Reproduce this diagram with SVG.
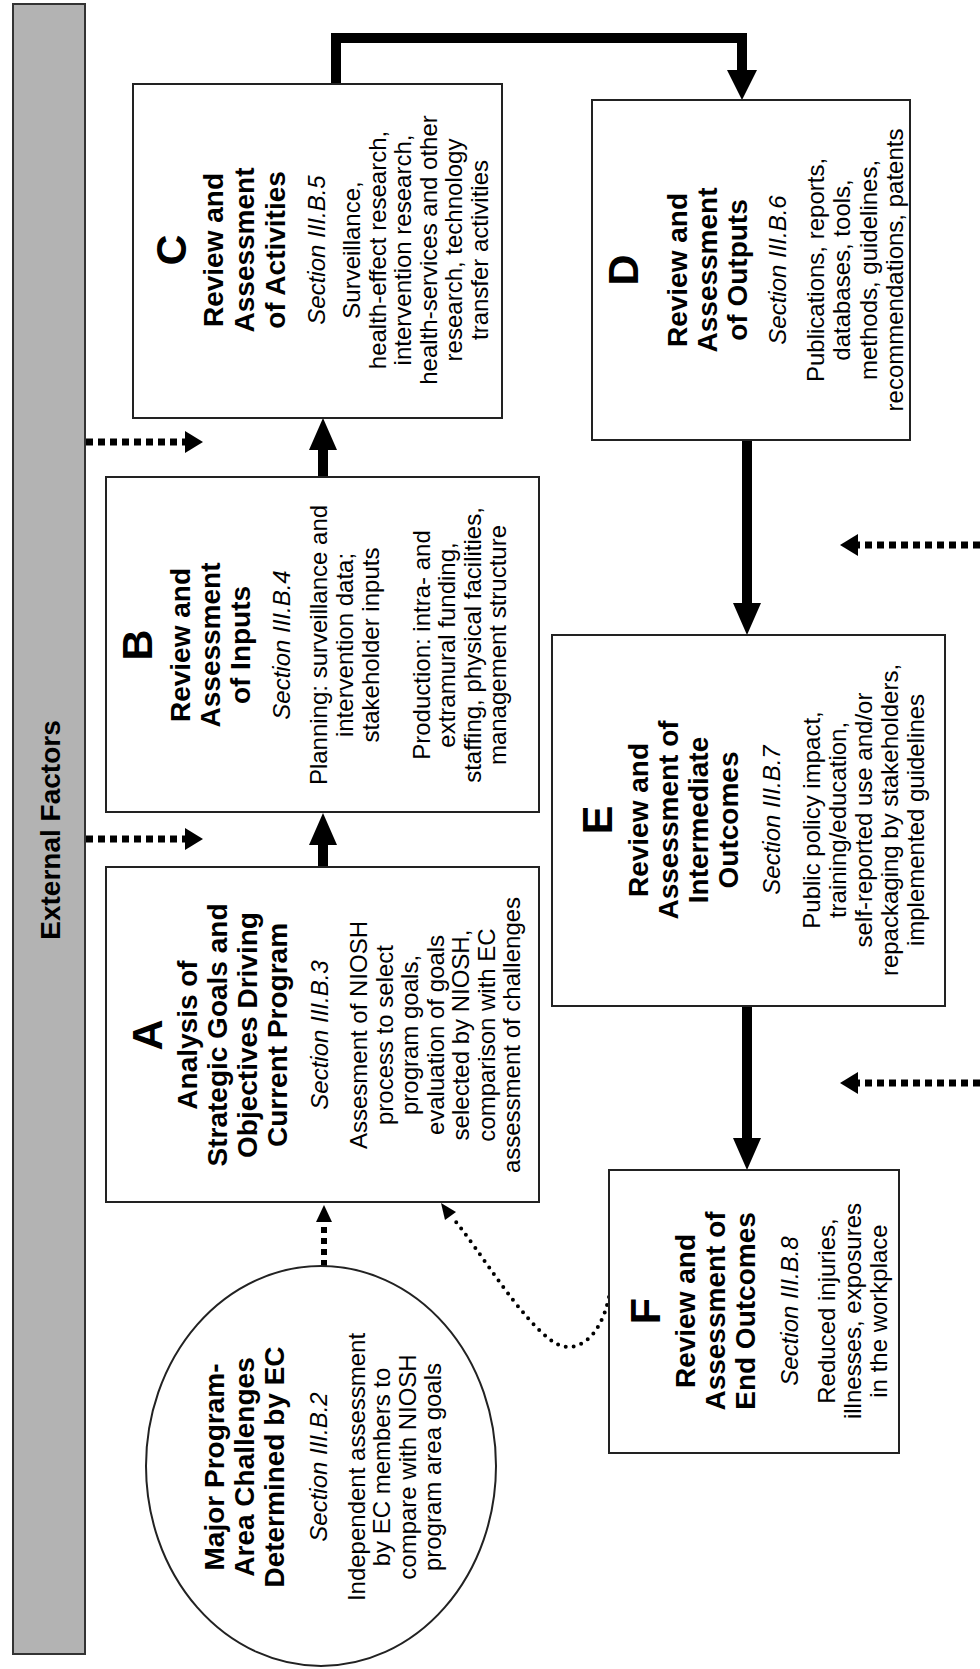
<svg xmlns="http://www.w3.org/2000/svg" width="980" height="1669" viewBox="0 0 980 1669">
<style>
text{font-family:"Liberation Sans",Arial,Helvetica,sans-serif;fill:#000;text-anchor:middle}
.ltr{font-weight:bold;font-size:43px}
.ttl{font-weight:bold;font-size:28px}
.sec{font-style:italic;font-size:24px}
.txt{font-size:24px}
.box{fill:#fff;stroke:#222;stroke-width:2}
.solid{fill:none;stroke:#000;stroke-width:10}
.dash{fill:none;stroke:#000;stroke-width:7;stroke-dasharray:7 5}
.dash2{fill:none;stroke:#000;stroke-width:6;stroke-dasharray:6 5}
.dots{fill:none;stroke:#000;stroke-width:4;stroke-linecap:round;stroke-dasharray:0 8}
.head{fill:#000;stroke:none}
</style>
<rect width="980" height="1669" fill="#fff"/>

<g id="external-factors">
<rect x="13" y="4" width="72" height="1650" fill="#b3b3b3" stroke="#333" stroke-width="2"/>
<g transform="translate(0,830) rotate(-90)"><text class="ttl" x="0" y="60">External Factors</text></g>
</g>

<g id="connectors">
<path class="solid" d="M336,85 V38 H742 V72"/>
<polygon class="head" points="727,70 757,70 742,100"/>
<line class="solid" x1="323" y1="478" x2="323" y2="448"/>
<polygon class="head" points="309,450 337,450 323,418"/>
<line class="solid" x1="323" y1="867" x2="323" y2="843"/>
<polygon class="head" points="309,845 337,845 323,813"/>
<line class="solid" x1="747" y1="440" x2="747" y2="605"/>
<polygon class="head" points="733,603 761,603 747,635"/>
<line class="solid" x1="747" y1="1006" x2="747" y2="1140"/>
<polygon class="head" points="733,1138 761,1138 747,1170"/>
<line class="dash" x1="86" y1="442" x2="185" y2="442"/>
<polygon class="head" points="185,431 185,453 203,442"/>
<line class="dash" x1="86" y1="839" x2="185" y2="839"/>
<polygon class="head" points="185,828 185,850 203,839"/>
<line class="dash" x1="980" y1="545" x2="858" y2="545"/>
<polygon class="head" points="858,534 858,556 840,545"/>
<line class="dash" x1="980" y1="1083" x2="858" y2="1083"/>
<polygon class="head" points="858,1072 858,1094 840,1083"/>
<line class="dash2" x1="324" y1="1266" x2="324" y2="1220"/>
<polygon class="head" points="316,1222 332,1222 324,1205"/>
<path class="dots" d="M609,1297 C600,1340 575,1355 555,1343 C520,1320 480,1250 452,1217"/>
<polygon class="head" points="441,1203 456,1212 445,1220"/>
</g>

<g id="node-C">
<rect class="box" x="133" y="84" width="369" height="334"/>
<g transform="translate(0,250) rotate(-90)">
<text class="ltr" x="0" y="186">C</text>
<text class="ttl" x="0" y="223">Review and</text>
<text class="ttl" x="0" y="254">Assessment</text>
<text class="ttl" x="0" y="285">of Activities</text>
<text class="sec" x="0" y="325">Section III.B.5</text>
<text class="txt" x="0" y="360">Surveillance,</text>
<text class="txt" x="0" y="386">health-effect research,</text>
<text class="txt" x="0" y="411">intervention research,</text>
<text class="txt" x="0" y="437">health-services and other</text>
<text class="txt" x="0" y="462">research, technology</text>
<text class="txt" x="0" y="488">transfer activities</text>
</g>
</g>

<g id="node-D">
<rect class="box" x="592" y="100" width="318" height="340"/>
<g transform="translate(0,270) rotate(-90)">
<text class="ltr" x="0" y="638">D</text>
<text class="ttl" x="0" y="687">Review and</text>
<text class="ttl" x="0" y="717">Assessment</text>
<text class="ttl" x="0" y="747">of Outputs</text>
<text class="sec" x="0" y="786">Section III.B.6</text>
<text class="txt" x="0" y="824">Publications, reports,</text>
<text class="txt" x="0" y="850">databases, tools,</text>
<text class="txt" x="0" y="877">methods, guidelines,</text>
<text class="txt" x="0" y="903">recommendations, patents</text>
</g>
</g>

<g id="node-B">
<rect class="box" x="106" y="477" width="433" height="335"/>
<g transform="translate(0,645) rotate(-90)">
<text class="ltr" x="0" y="152">B</text>
<text class="ttl" x="0" y="190">Review and</text>
<text class="ttl" x="0" y="220">Assessment</text>
<text class="ttl" x="0" y="250">of Inputs</text>
<text class="sec" x="0" y="290">Section III.B.4</text>
<text class="txt" x="0" y="327">Planning: surveillance and</text>
<text class="txt" x="0" y="353">intervention data;</text>
<text class="txt" x="0" y="379">stakeholder inputs</text>
<text class="txt" x="0" y="430">Production: intra- and</text>
<text class="txt" x="0" y="455">extramural funding,</text>
<text class="txt" x="0" y="481">staffing, physical facilities,</text>
<text class="txt" x="0" y="506">management structure</text>
</g>
</g>

<g id="node-A">
<rect class="box" x="106" y="867" width="433" height="335"/>
<g transform="translate(0,1035) rotate(-90)">
<text class="ltr" x="0" y="162">A</text>
<text class="ttl" x="0" y="197">Analysis of</text>
<text class="ttl" x="0" y="227">Strategic Goals and</text>
<text class="ttl" x="0" y="257">Objectives Driving</text>
<text class="ttl" x="0" y="287">Current Program</text>
<text class="sec" x="0" y="328">Section III.B.3</text>
<text class="txt" x="0" y="367">Assesment of NIOSH</text>
<text class="txt" x="0" y="393">process to select</text>
<text class="txt" x="0" y="418">program goals,</text>
<text class="txt" x="0" y="444">evaluation of goals</text>
<text class="txt" x="0" y="469">selected by NIOSH,</text>
<text class="txt" x="0" y="495">comparison with EC</text>
<text class="txt" x="0" y="520">assessment of challenges</text>
</g>
</g>

<g id="node-E">
<rect class="box" x="552" y="635" width="393" height="371"/>
<g transform="translate(0,820) rotate(-90)">
<text class="ltr" x="0" y="612">E</text>
<text class="ttl" x="0" y="648">Review and</text>
<text class="ttl" x="0" y="678">Assessment of</text>
<text class="ttl" x="0" y="708">Intermediate</text>
<text class="ttl" x="0" y="738">Outcomes</text>
<text class="sec" x="0" y="780">Section III.B.7</text>
<text class="txt" x="0" y="820">Public policy impact,</text>
<text class="txt" x="0" y="846">training/education,</text>
<text class="txt" x="0" y="872">self-reported use and/or</text>
<text class="txt" x="0" y="898">repackaging by stakeholders,</text>
<text class="txt" x="0" y="924">implemented guidelines</text>
</g>
</g>

<g id="node-F">
<rect class="box" x="609" y="1170" width="290" height="283"/>
<g transform="translate(0,1311) rotate(-90)">
<text class="ltr" x="0" y="660">F</text>
<text class="ttl" x="0" y="695">Review and</text>
<text class="ttl" x="0" y="725">Assessment of</text>
<text class="ttl" x="0" y="755">End Outcomes</text>
<text class="sec" x="0" y="798">Section III.B.8</text>
<text class="txt" x="0" y="835">Reduced injuries,</text>
<text class="txt" x="0" y="861">illnesses, exposures</text>
<text class="txt" x="0" y="887">in the workplace</text>
</g>
</g>

<g id="node-challenges">
<ellipse class="box" cx="321" cy="1466" rx="175" ry="200"/>
<g transform="translate(0,1467) rotate(-90)">
<text class="ttl" x="0" y="224">Major Program-</text>
<text class="ttl" x="0" y="254">Area Challenges</text>
<text class="ttl" x="0" y="284">Determined by EC</text>
<text class="sec" x="0" y="327">Section III.B.2</text>
<text class="txt" x="0" y="365">Independent assessment</text>
<text class="txt" x="0" y="390">by EC members to</text>
<text class="txt" x="0" y="416">compare with NIOSH</text>
<text class="txt" x="0" y="441">program area goals</text>
</g>
</g>
</svg>
